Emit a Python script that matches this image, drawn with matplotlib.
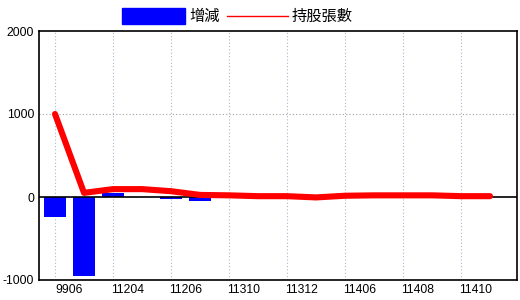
import matplotlib
matplotlib.use("Agg")
import matplotlib.pyplot as plt
from matplotlib.patches import Rectangle
from matplotlib.lines import Line2D

plt.rcParams['font.family'] = ['Noto Sans CJK TC', 'DejaVu Sans']

# 月份 (每隔一個顯示標籤)
periods = ["9906", "11203", "11204", "11205", "11206", "11309", "11310", "11311",
           "11312", "11405", "11406", "11407", "11408", "11409", "11410", "11411"]
change = [-240, -950, 50, 0, -30, -45, -5, -10, 0, -15, 15, 10, 0, 0, -10, 0]
holdings = [1000, 50, 95, 95, 70, 25, 20, 10, 10, -5, 15, 20, 20, 20, 10, 10]
yticks = [-1000, 0, 1000, 2000]

W, H = 520, 300
fig = plt.figure(figsize=(W / 100, H / 100), dpi=100)
ax = fig.add_axes([39 / W, 20 / H, (517 - 39) / W, (280 - 31) / H])

x = list(range(len(periods)))
ax.bar(x, change, width=0.76, color="#0000ff", zorder=2)
ax.axhline(0, color="black", lw=1.2, zorder=3)
ax.plot(x, holdings, color="#ff0000", lw=4.4, solid_capstyle="round",
        solid_joinstyle="round", zorder=4)

ax.set_xlim(-0.552, 15.93)
ax.set_ylim(-1000, 2000)
ax.set_yticks(yticks)
ax.set_yticklabels([str(v) for v in yticks], fontsize=8.7, family="Liberation Sans")
# 標籤位於兩個類別之間
ax.set_xticks([i + 0.5 for i in x[::2]])
ax.set_xticklabels(periods[::2], fontsize=8.7, family="Liberation Sans")
ax.tick_params(length=0)
ax.tick_params(axis="y", pad=3.5)
ax.tick_params(axis="x", pad=3)

# 格線
for xi in x[::2]:
    ax.axvline(xi, color="#a9b8c8", lw=0.8, ls=(0, (1, 2)), zorder=1)
ax.axhline(1000, color="#a0a0a0", lw=0.8, ls=(0, (1, 2)), zorder=1)

for s in ax.spines.values():
    s.set_color("black")
    s.set_linewidth(1.2)

# 圖例
fig.patches.append(Rectangle((122 / W, 1 - 24 / H), 63 / W, 16 / H,
                             transform=fig.transFigure, color="#0000ff"))
fig.text(189 / W, 1 - 16 / H, "增減", fontsize=11, va="center", ha="left")
fig.lines.append(Line2D([227 / W, 288 / W], [1 - 16 / H, 1 - 16 / H],
                        transform=fig.transFigure, color="#ff0000", lw=1))
fig.text(292 / W, 1 - 16 / H, "持股張數", fontsize=11, va="center", ha="left")

fig.savefig("out.png", dpi=100)
